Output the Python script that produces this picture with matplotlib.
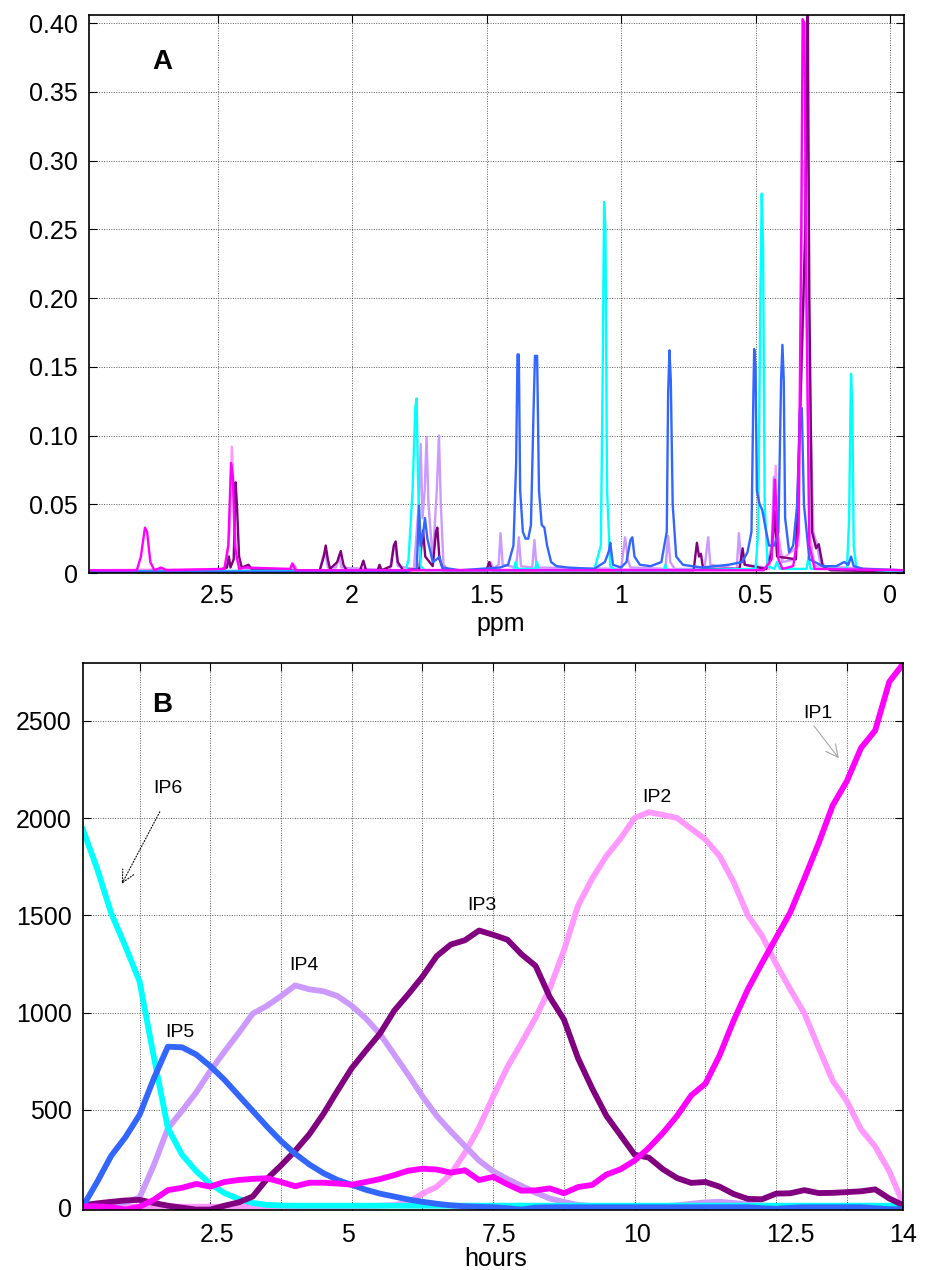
import matplotlib.pyplot as plt
import numpy as np

plt.rcParams['font.family'] = ['Liberation Sans', 'DejaVu Sans']

# ---------------- panel A : spectra (ppm, intensity vertices traced) ----------------
ip1_ppm = [2.98, 2.80, 2.785, 2.770, 2.762, 2.750, 2.735, 2.71, 2.69, 2.475, 2.46, 2.450, 2.443,
           2.436, 2.42, 2.40, 2.23, 2.222, 2.21, 1.50, 0.47, 0.44, 0.432, 0.428, 0.422, 0.415,
           0.40, 0.36, 0.34, 0.330, 0.325, 0.318, 0.312, 0.30, 0.28, -0.053]
ip1_int = [0.002, 0.002, 0.012, 0.033, 0.030, 0.008, 0.002, 0.004, 0.002, 0.003, 0.02, 0.080, 0.070,
           0.02, 0.003, 0.004, 0.003, 0.007, 0.002, 0.002, 0.002, 0.01, 0.050, 0.068, 0.045, 0.01,
           0.003, 0.005, 0.03, 0.25, 0.403, 0.40, 0.22, 0.02, 0.003, 0.002]

ip3_ppm = [2.98, 2.50, 2.465, 2.458, 2.452, 2.44, 2.433, 2.428, 2.42, 2.41, 2.385, 2.37, 2.25, 2.12,
           2.105, 2.098, 2.09, 2.082, 2.055, 2.042, 2.032, 2.02, 1.97, 1.958, 1.948, 1.905, 1.898,
           1.89, 1.855, 1.845, 1.838, 1.83, 1.81, 1.75, 1.742, 1.736, 1.728, 1.70, 1.688, 1.683,
           1.675, 1.66, 1.50, 1.49, 1.48, 0.73, 0.718, 0.71, 0.703, 0.695, 0.56, 0.548, 0.54, 0.46,
           0.44, 0.43, 0.42, 0.35, 0.315, 0.306, 0.300, 0.29, 0.275, 0.265, 0.25, 0.22, -0.053]
ip3_int = [0.001, 0.002, 0.004, 0.012, 0.004, 0.01, 0.066, 0.050, 0.012, 0.004, 0.006, 0.002, 0.002, 0.002,
           0.012, 0.020, 0.010, 0.003, 0.008, 0.016, 0.006, 0.002, 0.002, 0.009, 0.002, 0.002, 0.006,
           0.002, 0.005, 0.020, 0.023, 0.008, 0.002, 0.003, 0.020, 0.031, 0.012, 0.005, 0.030, 0.033,
           0.010, 0.002, 0.002, 0.008, 0.002, 0.002, 0.022, 0.012, 0.014, 0.003, 0.003, 0.018, 0.006, 0.003,
           0.015, 0.045, 0.012, 0.01, 0.25, 0.42, 0.2, 0.03, 0.018, 0.021, 0.005, 0.002, 0.001]

ip4_ppm = [2.98, 2.12, 2.108, 2.100, 2.09, 2.06, 2.048, 2.04, 1.86, 1.848, 1.840, 1.83, 1.77, 1.752,
           1.745, 1.738, 1.730, 1.723, 1.716, 1.70, 1.685, 1.677, 1.670, 1.66, 1.64, 1.50, 1.492,
           1.485, 1.475, 1.455, 1.448, 1.440, 1.39, 1.380, 1.372, 1.33, 1.322, 1.314, 1.0, 0.985,
           0.975, 0.965, 0.835, 0.825, 0.817, 0.80, 0.69, 0.676, 0.668, 0.57, 0.562, 0.555, 0.54,
           0.46, 0.44, 0.432, 0.425, 0.40, 0.35, 0.32, 0.307, 0.30, 0.285, 0.272, 0.26, 0.23, 0.20, -0.053]
ip4_int = [0.001, 0.002, 0.012, 0.016, 0.004, 0.004, 0.013, 0.004, 0.002, 0.016, 0.020, 0.005, 0.003, 0.05,
           0.094, 0.04, 0.06, 0.099, 0.05, 0.01, 0.06, 0.100, 0.05, 0.006, 0.002, 0.002, 0.006,
           0.008, 0.003, 0.006, 0.029, 0.006, 0.004, 0.026, 0.005, 0.004, 0.024, 0.004, 0.003, 0.026,
           0.010, 0.004, 0.003, 0.027, 0.008, 0.003, 0.003, 0.026, 0.006, 0.003, 0.029, 0.012, 0.006,
           0.004, 0.02, 0.07, 0.03, 0.008, 0.01, 0.2, 0.357, 0.15, 0.03, 0.021, 0.008, 0.003, 0.004, 0.001]

ip2_ppm = [2.98, 2.47, 2.455, 2.447, 2.440, 2.43, 2.41, 2.225, 2.215, 2.205, 0.45, 0.435, 0.425,
           0.418, 0.40, 0.34, 0.325, 0.315, 0.30, 0.28, -0.053]
ip2_int = [0.002, 0.003, 0.03, 0.092, 0.06, 0.01, 0.003, 0.002, 0.006, 0.002, 0.003, 0.03, 0.078,
           0.03, 0.01, 0.02, 0.30, 0.28, 0.03, 0.005, 0.002]

ip6_ppm = [2.98, 1.80, 1.79, 1.775, 1.765, 1.760, 1.755, 1.745, 1.73, 1.40, 1.392, 1.385, 1.32,
           1.313, 1.305, 1.10, 1.075, 1.068, 1.063, 1.058, 1.052, 1.04, 1.02, 0.84, 0.836, 0.83,
           0.50, 0.49, 0.482, 0.477, 0.472, 0.466, 0.455, 0.43, 0.42, 0.41, 0.31, 0.303, 0.295,
           0.16, 0.152, 0.147, 0.145, 0.14, 0.135, 0.125, -0.053]
ip6_int = [0.001, 0.002, 0.010, 0.06, 0.12, 0.127, 0.07, 0.005, 0.002, 0.002, 0.008, 0.003, 0.003,
           0.008, 0.002, 0.002, 0.02, 0.15, 0.27, 0.25, 0.06, 0.005, 0.002, 0.002, 0.006, 0.002,
           0.003, 0.03, 0.2, 0.276, 0.24, 0.05, 0.005, 0.003, 0.008, 0.003, 0.003, 0.012, 0.003,
           0.003, 0.04, 0.12, 0.145, 0.12, 0.02, 0.003, 0.001]

ip5_ppm = [2.98, 1.80, 1.76, 1.755, 1.751, 1.745, 1.735, 1.729, 1.72, 1.70, 1.685, 1.675, 1.665,
           1.60, 1.45, 1.42, 1.40, 1.39, 1.385, 1.380, 1.375, 1.365, 1.355, 1.345, 1.335, 1.325,
           1.320, 1.312, 1.305, 1.295, 1.285, 1.275, 1.26, 1.24, 1.20, 1.10, 1.06, 1.045, 1.040,
           1.03, 1.0, 0.98, 0.965, 0.958, 0.95, 0.93, 0.89, 0.85, 0.83, 0.825, 0.820, 0.815, 0.808,
           0.795, 0.77, 0.70, 0.60, 0.55, 0.53, 0.515, 0.508, 0.505, 0.500, 0.495, 0.485, 0.475,
           0.465, 0.45, 0.43, 0.415, 0.405, 0.400, 0.395, 0.39, 0.375, 0.36, 0.345, 0.335, 0.328,
           0.32, 0.30, 0.25, 0.20, 0.17, 0.155, 0.145, 0.135, 0.10, -0.053]
ip5_int = [0.001, 0.001, 0.003, 0.025, 0.049, 0.02, 0.03, 0.040, 0.025, 0.008, 0.010, 0.012, 0.004,
           0.002, 0.004, 0.006, 0.02, 0.08, 0.159, 0.159, 0.06, 0.03, 0.025, 0.025, 0.035, 0.12,
           0.158, 0.158, 0.06, 0.035, 0.033, 0.020, 0.008, 0.005, 0.004, 0.003, 0.008, 0.016, 0.022,
           0.006, 0.004, 0.008, 0.024, 0.026, 0.012, 0.006, 0.005, 0.008, 0.03, 0.13, 0.162, 0.14, 0.05,
           0.012, 0.006, 0.004, 0.006, 0.008, 0.015, 0.03, 0.13, 0.163, 0.15, 0.06, 0.05, 0.046,
           0.035, 0.02, 0.02, 0.03, 0.14, 0.166, 0.14, 0.04, 0.015, 0.02, 0.05, 0.12, 0.12,
           0.05, 0.01, 0.005, 0.005, 0.008, 0.006, 0.012, 0.005, 0.003, 0.002]

ppm_ticks = [2.5, 2, 1.5, 1, 0.5, 0]
ppm_labels = ['2.5', '2', '1.5', '1', '0.5', '0']
int_ticks = [0, 0.05, 0.10, 0.15, 0.20, 0.25, 0.30, 0.35, 0.40]
int_labels = ['0', '0.05', '0.10', '0.15', '0.20', '0.25', '0.30', '0.35', '0.40']

# ---------------- panel B : profiles per sample ----------------
ip6_prof = [1940, 1740, 1510, 1340, 1160, 776, 407, 270, 186, 120, 73, 43, 22, 12, 9,
            8, 8, 8, 8, 8, 8, 8, 8, 8, 8, 8, 8, 8, 8, 8, 8, 8, 8, 8, 8, 8, 8, 8, 8, 8,
            8, 8, 8, 8, 8, 8, 8, 8, 8, 8, 8, 8, 8, 8, 8, 8, 8, 8, 6]
ip5_prof = [5, 130, 265, 360, 475, 660, 825, 822, 785, 725, 655, 575, 495, 415, 340,
            275, 220, 175, 140, 115, 90, 70, 55, 40, 28, 18, 10, 5, 2, 0,
            -5, -12, -2, 0, 0, 0, 0, 0, 0, 0, 0, 0, 0, 0, 0,
            0, 0, 0, -5, -8, -3, 0, 0, 0, 0, 0, -5, -10, -10]
ip4_prof = [5, 8, 12, 25, 50, 215, 405, 495, 590, 700, 800, 895, 995, 1035, 1085,
            1140, 1120, 1110, 1085, 1035, 970, 890, 785, 680, 570, 470, 390, 315, 240, 185,
            145, 110, 75, 45, 27, 12, 6, 5, 5, 5, 5, 5, 10, 18, 25,
            28, 22, 15, 8, 5, 5, 5, 5, 5, 5, 5, 5, 5, 5]
ip3_prof = [10, 20, 28, 35, 38, 22, 8, -2, -12, -12, 8, 25, 55, 145, 215,
            290, 375, 480, 600, 715, 805, 893, 1010, 1095, 1185, 1290, 1350, 1372, 1422, 1400,
            1375, 1300, 1240, 1080, 965, 765, 610, 470, 370, 270, 255, 195, 150, 125, 130,
            106, 68, 43, 41, 70, 72, 88, 73, 74, 78, 82, 92, 45, 10]
ip2_prof = [3, 3, 3, 3, 3, 3, 3, 3, 3, 3, 3, 3, 3, 3, 3,
            3, 3, 3, 3, 3, 5, 8, 12, 25, 70, 105, 170, 280, 410, 570,
            720, 845, 975, 1125, 1320, 1550, 1690, 1805, 1895, 2000, 2030, 2016, 2000, 1945, 1890,
            1805, 1670, 1500, 1395, 1250, 1120, 995, 820, 650, 545, 400, 312, 185, 15]
ip1_prof = [5, 5, 0, -12, 3, 38, 88, 100, 120, 106, 130, 140, 146, 149, 130,
            108, 126, 126, 122, 116, 130, 145, 165, 188, 198, 194, 178, 190, 140, 156,
            118, 85, 87, 97, 72, 104, 115, 168, 195, 240, 305, 382, 470, 575, 635,
            780, 960, 1120, 1255, 1385, 1515, 1690, 1870, 2065, 2190, 2360, 2450, 2700, 2795]

sample_grid = [5, 10, 15, 20, 25, 30, 35, 40, 45, 50, 55]
hour_pos = [10.5, 19.7, 30.4, 40.2, 51.0, 59.0]
hour_labels = ['2.5', '5', '7.5', '10', '12.5', '14']
b_yticks = [0, 500, 1000, 1500, 2000, 2500]

col = {'IP1': '#FF00FF', 'IP2': '#FF99FF', 'IP3': '#800080',
       'IP4': '#CC99FF', 'IP5': '#3366FF', 'IP6': '#00FFFF'}

fig = plt.figure(figsize=(9.25, 12.7), dpi=100)

def style(ax):
    ax.tick_params(direction='in', top=True, right=True, length=6, width=0.8,
                   labelsize=18, pad=8)
    ax.grid(True, which='major', linestyle=(0, (1, 1.5)), color='0.35', linewidth=0.7)
    for s in ax.spines.values():
        s.set_linewidth(1.2)

# ---- A
axA = fig.add_axes([0.0962, 0.5488, 0.8814, 0.4394])
axA.plot(ip2_ppm, ip2_int, color=col['IP2'], lw=1.7)
axA.plot(ip4_ppm, ip4_int, color=col['IP4'], lw=1.7)
axA.plot(ip3_ppm, ip3_int, color=col['IP3'], lw=1.7)
axA.plot(ip6_ppm, ip6_int, color=col['IP6'], lw=1.7)
axA.plot(ip5_ppm, ip5_int, color=col['IP5'], lw=1.7)
axA.plot(ip1_ppm, ip1_int, color=col['IP1'], lw=1.7)
axA.set_xlim(2.978, -0.053)
axA.set_ylim(0, 0.406)
axA.set_xticks(ppm_ticks)
axA.set_xticklabels(ppm_labels)
axA.set_yticks(int_ticks)
axA.set_yticklabels(int_labels)
style(axA)
axA.set_xlabel('ppm', fontsize=18)
axA.xaxis.set_label_coords(0.505, -0.070)
axA.text(2.704, 0.372, 'A', fontsize=20, fontweight='bold', ha='center', va='center')

# ---- B
samples = np.arange(1, len(ip1_prof) + 1)
axB = fig.add_axes([0.0897, 0.0471, 0.8870, 0.4309])
axB.plot(samples, ip2_prof, color=col['IP2'], lw=4.2)
axB.plot(samples, ip4_prof, color=col['IP4'], lw=4.2)
axB.plot(samples, ip6_prof, color=col['IP6'], lw=4.2)
axB.plot(samples, ip3_prof, color=col['IP3'], lw=4.2)
axB.plot(samples, ip5_prof, color=col['IP5'], lw=4.2)
axB.plot(samples, ip1_prof, color=col['IP1'], lw=4.2)
axB.set_xlim(1, 59)
axB.set_ylim(-15, 2797)
axB.set_xticks(sample_grid)
axB.set_xticklabels([])
axB.set_xticks(hour_pos, minor=True)
axB.set_xticklabels(hour_labels, minor=True)
axB.set_yticks(b_yticks)
style(axB)
axB.tick_params(axis='x', which='minor', length=0, labelsize=18, pad=9)
axB.set_xlabel('hours', fontsize=18)
axB.xaxis.set_label_coords(0.503, -0.067)

axB.text(6.63, 2581, 'B', fontsize=20, fontweight='bold', ha='center', va='center')
lab = dict(fontsize=14, ha='center', va='center')
axB.text(7.0, 2150, 'IP6', **lab)
axB.text(7.88, 898, 'IP5', **lab)
axB.text(16.65, 1241, 'IP4', **lab)
axB.text(29.23, 1549, 'IP3', **lab)
axB.text(41.55, 2108, 'IP2', **lab)
axB.text(52.95, 2535, 'IP1', **lab)
axB.annotate('', xy=(3.75, 1662), xytext=(6.43, 2032),
             arrowprops=dict(arrowstyle='->', linestyle=':', color='k', lw=0.8,
                             mutation_scale=22, shrinkA=0, shrinkB=0))
axB.annotate('', xy=(54.43, 2307), xytext=(52.67, 2474),
             arrowprops=dict(arrowstyle='->', color='0.65', lw=0.8,
                             mutation_scale=22, shrinkA=0, shrinkB=0))

fig.savefig('out.png', dpi=100)
